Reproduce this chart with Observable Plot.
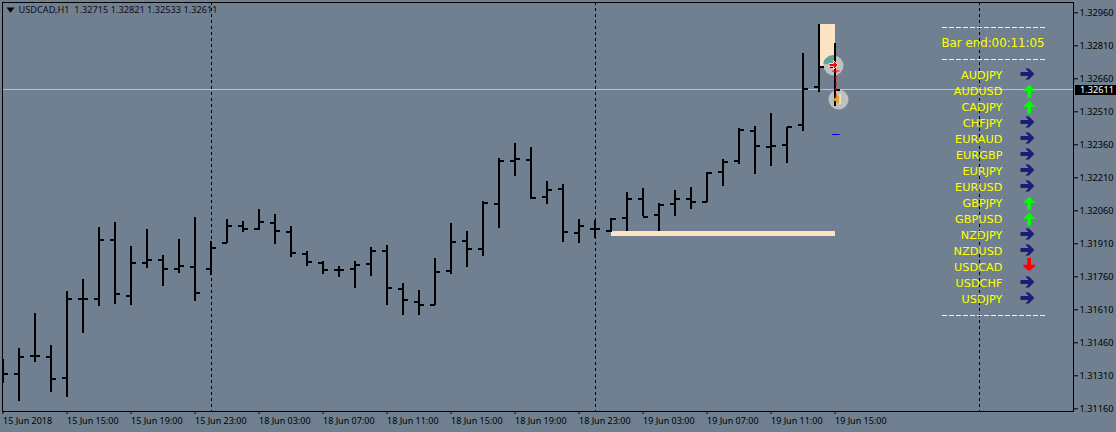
<!DOCTYPE html>
<html>
<head>
<meta charset="utf-8">
<script src="https://cdn.jsdelivr.net/npm/d3@7"></script>
<script src="https://cdn.jsdelivr.net/npm/@observablehq/plot@0.6"></script>
<style>
html,body{margin:0;padding:0;background:#708090;overflow:hidden}
svg{display:block}
</style>
</head>
<body>
<div id="chart"></div>
<script>
const opens = [1.31317,1.31317,1.31399,1.31395,1.31299,1.31658,1.31661,1.31926,1.31675,1.31822,1.31835,1.31795,1.31804,1.31795,1.31913,1.31990,1.31976,1.32004,1.31963,1.31863,1.31822,1.31790,1.31795,1.31817,1.31876,1.31704,1.31645,1.31634,1.31786,1.31922,1.31886,1.32090,1.32286,1.32290,1.32122,1.32158,1.31958,1.31978,1.31967,1.32026,1.32113,1.32040,1.32090,1.32113,1.32099,1.32236,1.32286,1.32422,1.32349,1.32358,1.32449,1.32622,1.32715];
const highs = [1.31384,1.31433,1.31592,1.31446,1.31692,1.31746,1.31983,1.32005,1.31896,1.31974,1.31855,1.31928,1.32028,1.31919,1.32019,1.32010,1.32065,1.32042,1.31987,1.31874,1.31828,1.31807,1.31828,1.31892,1.31901,1.31728,1.31696,1.31842,1.32001,1.31965,1.32101,1.32296,1.32365,1.32346,1.32192,1.32178,1.32019,1.32016,1.32024,1.32142,1.32160,1.32092,1.32151,1.32165,1.32236,1.32292,1.32433,1.32442,1.32501,1.32440,1.32774,1.32905,1.32821];
const lows = [1.31276,1.31195,1.31372,1.31235,1.31213,1.31504,1.31626,1.31635,1.31631,1.31799,1.31717,1.31776,1.31649,1.31767,1.31910,1.31963,1.31972,1.31908,1.31849,1.31808,1.31772,1.31758,1.31708,1.31763,1.31631,1.31586,1.31586,1.31628,1.31772,1.31804,1.31854,1.31981,1.32217,1.32113,1.32090,1.31917,1.31913,1.31934,1.31960,1.31966,1.32034,1.31966,1.32036,1.32067,1.32096,1.32172,1.32272,1.32226,1.32263,1.32276,1.32422,1.32599,1.32533];
const closes = [1.31317,1.31395,1.31402,1.31295,1.31658,1.31658,1.31926,1.31680,1.31822,1.31835,1.31795,1.31808,1.31685,1.31890,1.31990,1.31976,1.32008,1.31967,1.31867,1.31826,1.31790,1.31790,1.31813,1.31876,1.31708,1.31654,1.31631,1.31781,1.31917,1.31886,1.32095,1.32286,1.32295,1.32117,1.32154,1.31963,1.31990,1.31978,1.32022,1.32113,1.32034,1.32086,1.32113,1.32099,1.32231,1.32281,1.32428,1.32354,1.32354,1.32440,1.32613,1.32713,1.32611];

const priceTicks = [1.32960,1.32810,1.32660,1.32510,1.32360,1.32210,1.32060,1.31910,1.31760,1.31610,1.31460,1.31310,1.31160];
const timeTickBars = [0,4,8,12,16,20,24,28,32,36,40,44,48,52];
const timeTickLabels = ["15 Jun 2018","15 Jun 15:00","15 Jun 19:00","15 Jun 23:00","18 Jun 03:00","18 Jun 07:00","18 Jun 11:00","18 Jun 15:00","18 Jun 19:00","18 Jun 23:00","19 Jun 03:00","19 Jun 07:00","19 Jun 11:00","19 Jun 15:00"];
const separatorBars = [13,37,61];
const pairs = ["AUDJPY","AUDUSD","CADJPY","CHFJPY","EURAUD","EURGBP","EURJPY","EURUSD","GBPJPY","GBPUSD","NZDJPY","NZDUSD","USDCAD","USDCHF","USDJPY"];
const directions = ["right","up","up","right","right","right","right","right","up","up","right","right","down","right","right"];
const lastPrice = 1.32611;
const headerText = "USDCAD,H1\u00a0\u00a01.32715 1.32821 1.32533 1.32611";
const countdown = "Bar end:00:11:05";
const zoneHigh = [51, 52, 1.32905, 1.32713];
const zoneLow = [38, 52, 1.31966, 1.31943];

const bars = opens.map((o,i)=>({i,o,h:highs[i],l:lows[i],c:closes[i]}));

// pixel helpers for the overlay panel that lives on the chart's own scales
const pxX = px => (px-3)/16;
const pxY = py => 1.3296-(py-12.3)/22000;

const poly = pts => ({draw(ctx,size){
  const u = Math.sqrt(size/Math.PI);
  pts.forEach(([a,b],k)=> k? ctx.lineTo(a*u,b*u):ctx.moveTo(a*u,b*u));
  ctx.closePath();
}});
const symRight = poly([[-1,-.3],[.15,-.3],[-.3,-.8],[.2,-.8],[1,0],[.2,.8],[-.3,.8],[.15,.3],[-1,.3]]);
const symUp = poly([[-.28,1],[-.28,-.05],[-.9,-.05],[0,-1],[.9,-.05],[.28,-.05],[.28,1]]);
const symDown = poly([[-.28,-1],[-.28,.05],[-.9,.05],[-.9,.3],[0,1],[.9,.3],[.9,.05],[.28,.05],[.28,-1]]);
const symbols = {right:symRight,up:symUp,down:symDown};
const arrowColor = {right:"#1c1c78",up:"#00ff00",down:"#ff0000"};
const arrowShift = {right:-1.5,up:-.3,down:-3};
const sector = {draw(ctx,size){
  const r = Math.sqrt(size/Math.PI);
  const a0 = Math.PI*1.06, a1 = Math.PI*1.56;
  ctx.moveTo(0,0);
  ctx.arc(0,0,r,a0,a1);
  ctx.closePath();
}};
const markTrade = poly([[-1,-.35],[0,-.35],[0,-1],[1,0],[0,1],[0,.35],[-1,.35]]);
const markLeft = poly([[-1,0],[.6,-1],[.6,1]]);

const rows = pairs.map((p,k)=>({p,dir:directions[k],row:75+16*k}));
const dashRows = [27.3,59,315];

const font = "'Noto Sans',sans-serif";
const plot = Plot.plot({
  width:1116,height:432,
  marginLeft:2,marginRight:43,marginTop:2,marginBottom:21,
  style:{background:"#708090",fontFamily:font,fontSize:"9px",color:"#000"},
  x:{domain:[-1/16,1070/16],axis:null},
  y:{domain:[1.3296-398.7/22000,1.3296+10.3/22000],axis:null},
  marks:[
    // last-price line
    Plot.ruleY([lastPrice],{stroke:"#c0c0c0",strokeWidth:1,shapeRendering:"crispEdges"}),
    // header
    Plot.text([headerText],{x:pxX(18),y:pxY(10),text:d=>d,textAnchor:"start",fill:"#0c0c18",fontSize:9.2}),
    Plot.dot([0],{x:pxX(10),y:pxY(9.5),symbol:poly([[-1,-.6],[1,-.6],[0,.7]]),r:4,fill:"#000",stroke:"none"}),
    // zones
    Plot.rect([zoneHigh,zoneLow],{x1:d=>d[0],x2:d=>d[1],y1:d=>d[2],y2:d=>d[3],fill:"#ffe4c4",shapeRendering:"crispEdges"}),
    // signal discs
    Plot.dot([0],{x:pxX(833),y:pxY(65),r:10,fill:"#c0c0c0",stroke:"none"}),
    Plot.dot([0],{x:pxX(833),y:pxY(65),r:10.5,symbol:sector,fill:"#5ba59a",stroke:"none"}),
    Plot.dot([0],{x:pxX(838),y:pxY(99),r:10,fill:"#c0c0c0",stroke:"none"}),
    // bars
    Plot.ruleX(bars,{x:"i",y1:"l",y2:"h",stroke:"#000",strokeWidth:2,dx:-.5,clip:true,shapeRendering:"crispEdges"}),
    Plot.ruleY(bars,{y:"o",x1:d=>d.i-5/16,x2:"i",dx:-.5,stroke:"#000",strokeWidth:2,clip:true,shapeRendering:"crispEdges"}),
    Plot.ruleY(bars,{y:"c",x1:"i",x2:d=>d.i+5/16,dx:-.5,stroke:"#000",strokeWidth:2,clip:true,shapeRendering:"crispEdges"}),
    // period separators
    Plot.ruleX(separatorBars,{stroke:"#000",strokeWidth:1,strokeDasharray:"3,3",shapeRendering:"crispEdges"}),
    // trade markers
    Plot.ruleX([0],{x:()=>pxX(835.5),y1:pxY(70),y2:pxY(100),stroke:"#ff0000",strokeWidth:1,strokeDasharray:"3,3"}),
    Plot.ruleY([0],{y:pxY(70.5),x1:pxX(832),x2:pxX(839.5),stroke:"#ff0000",strokeWidth:1}),
    Plot.ruleY([0],{y:pxY(134),x1:pxX(832),x2:pxX(839.5),stroke:"#0000ff",strokeWidth:1}),
    Plot.dot([0],{x:pxX(833),y:pxY(64.5),symbol:markTrade,r:4.5,fill:"#ff0000",stroke:"#fff",strokeWidth:.8}),
    Plot.dot([0],{x:pxX(836.5),y:pxY(99),symbol:markLeft,r:4.5,fill:"#daa520",stroke:"none"}),
    Plot.ruleX([0],{x:()=>pxX(839.5),y1:pxY(94),y2:pxY(104),stroke:"#fff",strokeWidth:1}),
    // panel
    Plot.ruleY(dashRows,{y:pxY,x1:pxX(942),x2:pxX(1045),stroke:"#ffff66",strokeWidth:1,strokeDasharray:"5,2",shapeRendering:"crispEdges"}),
    Plot.text([countdown],{x:pxX(941),y:pxY(43),text:d=>d,textAnchor:"start",fill:"#ffff00",fontSize:11.8,fontFamily:"'DejaVu Sans',sans-serif"}),
    Plot.text(rows,{x:pxX(1002),y:d=>pxY(d.row),text:"p",textAnchor:"end",fill:"#ffff00",fontSize:11.3,fontFamily:"'DejaVu Sans',sans-serif"}),
    ...["right","up","down"].map(dir=>Plot.dot(rows.filter(r=>r.dir===dir),{
      x:pxX(dir==="right"?1027:1028.7),y:d=>pxY(d.row+arrowShift[dir]),symbol:symbols[dir],r:dir==="right"?7:6.6,fill:arrowColor[dir],stroke:"none"})),
    // axes
    Plot.frame({stroke:"#000",strokeWidth:1,shapeRendering:"crispEdges"}),
    Plot.axisY(priceTicks,{anchor:"right",tickSize:4,tickPadding:2,label:null,tickFormat:d=>d.toFixed(5),stroke:"#000",fill:"#000",fontSize:9.2}),
    Plot.axisX(timeTickBars,{anchor:"bottom",tickSize:3,tickPadding:3,label:null,textAnchor:"start",tickFormat:d=>timeTickLabels[timeTickBars.indexOf(d)],stroke:"#000",fill:"#000",fontSize:9,dx:-.5}),
    // last price flag
    Plot.rect([0],{x1:pxX(1075),x2:pxX(1116),y1:pxY(84.5),y2:pxY(94.5),fill:"#000",shapeRendering:"crispEdges"}),
    Plot.text([lastPrice],{x:pxX(1079.5),y:d=>d,text:d=>d.toFixed(5),textAnchor:"start",fill:"#fff",fontSize:9.2})
  ]
});
document.getElementById("chart").appendChild(plot);
</script>
</body>
</html>
